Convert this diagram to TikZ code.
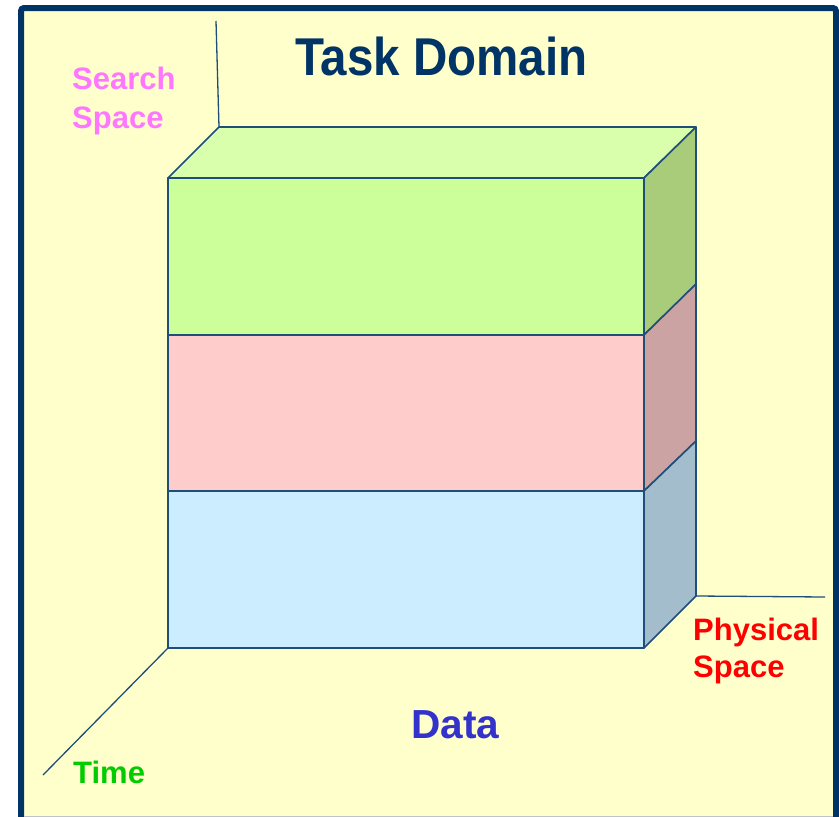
\documentclass[tikz,border=0pt]{standalone}
\usepackage{fontspec}
\setmainfont{Liberation Sans}
\begin{document}
\begin{tikzpicture}[x=1pt,y=-1pt,
  edge/.style={draw=edgeblue,line width=1.6pt,line join=round},
  axis/.style={draw=edgeblue,line width=1.3pt},
  lbl/.style={inner sep=0pt,anchor=base west,font=\bfseries\fontsize{31}{31}\selectfont},
]
\definecolor{bg}{HTML}{FFFFCC}
\definecolor{frame}{HTML}{003366}
\definecolor{edgeblue}{HTML}{1F4E79}
\definecolor{greenfront}{HTML}{CCFF99}
\definecolor{greentop}{HTML}{D9FFAD}
\definecolor{greenside}{HTML}{A8CC7A}
\definecolor{pinkfront}{HTML}{FFCCCC}
\definecolor{pinkside}{HTML}{CCA3A3}
\definecolor{bluefront}{HTML}{CCECFF}
\definecolor{blueside}{HTML}{A3BDCC}
\definecolor{searchpink}{HTML}{FF77FF}
\definecolor{physred}{HTML}{FF0000}
\definecolor{timegreen}{HTML}{00CC00}
\definecolor{datablue}{HTML}{3333CC}

\useasboundingbox (0,0) rectangle (839,817);
\begin{scope}
\clip (0,0) rectangle (839,817);
% panel with its heavy frame, running off the lower edge
\fill[bg] (21,8) rectangle (836,840);
\draw[frame,line width=6pt,rounded corners=3pt] (21,8) rectangle (836,840);
\draw[gray!70!frame!40,line width=1pt] (24,816.5) -- (833,816.5);
\end{scope}

% corner points of the stacked block
\coordinate (fTL) at (168,178);
\coordinate (fTR) at (644,178);
\coordinate (bTL) at (219,127);
\coordinate (bTR) at (696,127);
\coordinate (fM1L) at (168,335);
\coordinate (fM1R) at (644,335);
\coordinate (bM1R) at (696,284);
\coordinate (fM2L) at (168,491);
\coordinate (fM2R) at (644,491);
\coordinate (bM2R) at (696,441);
\coordinate (fBL) at (168,648);
\coordinate (fBR) at (644,648);
\coordinate (bBR) at (696,596);

% axis ends
\coordinate (axUp) at (216,21);
\coordinate (axRight) at (825,597);
\coordinate (axLeft) at (43,775);

% axes
\draw[axis] (bTL) -- (axUp);
\draw[axis] (bBR) -- (axRight);
\draw[axis] (fBL) -- (axLeft);

% top layer
\filldraw[edge,fill=greentop] (fTL) -- (bTL) -- (bTR) -- (fTR) -- cycle;
\filldraw[edge,fill=greenside] (fTR) -- (bTR) -- (bM1R) -- (fM1R) -- cycle;
\filldraw[edge,fill=greenfront] (fTL) rectangle (fM1R);
% middle layer
\filldraw[edge,fill=pinkside] (fM1R) -- (bM1R) -- (bM2R) -- (fM2R) -- cycle;
\filldraw[edge,fill=pinkfront] (fM1L) rectangle (fM2R);
% bottom layer
\filldraw[edge,fill=blueside] (fM2R) -- (bM2R) -- (bBR) -- (fBR) -- cycle;
\filldraw[edge,fill=bluefront] (fM2L) rectangle (fBR);

% labels
\node[lbl,font=\bfseries\fontsize{47.5}{47.5}\selectfont,text=frame,yscale=1.12,transform shape] (title) at (295,75) {Task Domain};
\node[lbl,text=searchpink] (search1) at (72,89) {Search};
\node[lbl,text=searchpink] (search2) at (72,128) {Space};
\node[lbl,text=physred] (phys1) at (693,640) {Physical};
\node[lbl,text=physred] (phys2) at (693,677) {Space};
\node[lbl,text=timegreen] (time) at (73,783) {Time};
\node[lbl,font=\bfseries\fontsize{40.6}{40.6}\selectfont,text=datablue] (data) at (411,738) {Data};
\end{tikzpicture}
\end{document}
